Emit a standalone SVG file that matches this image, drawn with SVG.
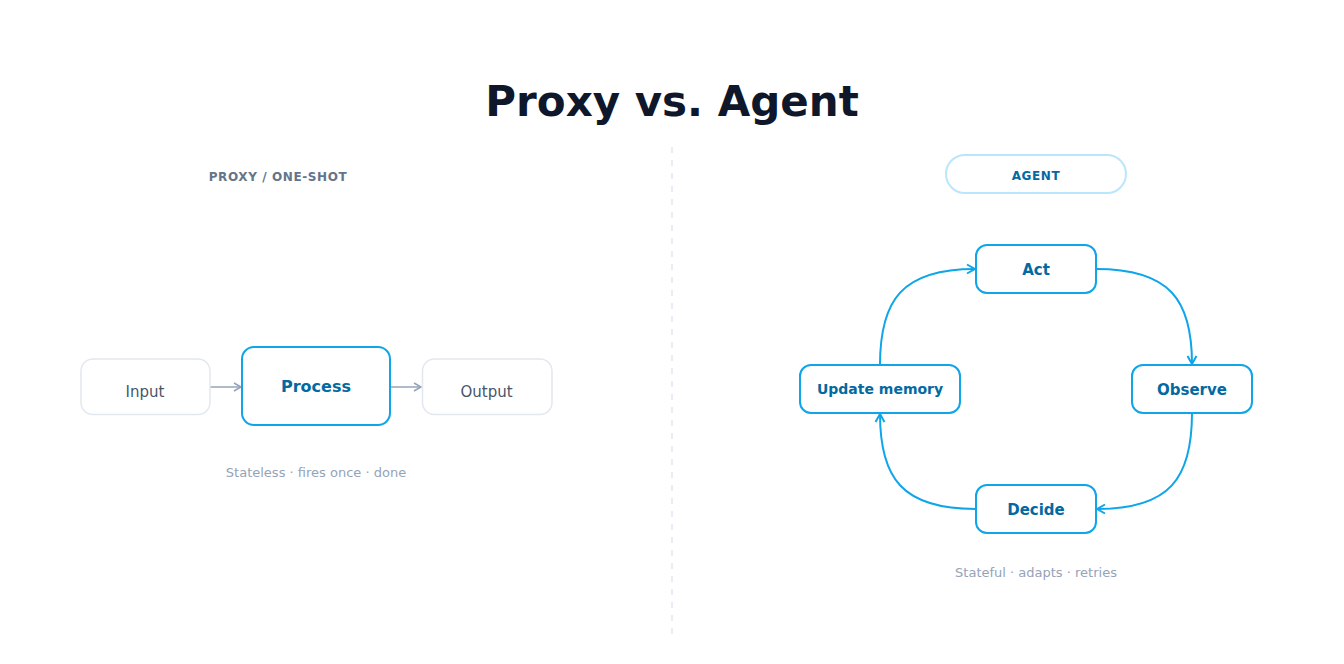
<svg xmlns="http://www.w3.org/2000/svg" width="1344" height="664" viewBox="0 0 1344 664">
<style>
.title{font-family:"DejaVu Sans",sans-serif;font-weight:bold;font-size:42px;fill:#0f172a}
.sec{font-family:"DejaVu Sans",sans-serif;font-weight:bold;font-size:12px;letter-spacing:0.6px}
.plain rect{fill:#fff;stroke:#e2e8f0;stroke-width:1.5}
.plain text{font-family:"DejaVu Sans",sans-serif;font-size:15px;fill:#475569}
.hot rect{fill:#fff;stroke:#0ea5e9;stroke-width:2}
.hot text{font-family:"DejaVu Sans",sans-serif;font-weight:bold;font-size:15px;fill:#0369a1}
.cap{font-family:"DejaVu Sans",sans-serif;font-size:13px;fill:#94a3b8}
.gray{fill:none;stroke:#94a3b8;stroke-width:1.5}
.blue{fill:none;stroke:#0ea5e9;stroke-width:2}
</style>
<defs>
<marker id="ag" markerUnits="userSpaceOnUse" markerWidth="12" markerHeight="12" viewBox="0 0 12 12" refX="10" refY="6" orient="auto">
<path d="M3,2 L10,6 L3,10" fill="none" stroke="#94a3b8" stroke-width="1.5"/>
</marker>
<marker id="ab" markerUnits="userSpaceOnUse" markerWidth="12" markerHeight="12" viewBox="0 0 12 12" refX="10" refY="6" orient="auto">
<path d="M2,1.5 L10,6 L2,10.5" fill="none" stroke="#0ea5e9" stroke-width="2"/>
</marker>
</defs>
<rect width="1344" height="664" fill="#fff"/>
<text class="title" x="672" y="116" text-anchor="middle">Proxy vs. Agent</text>
<line x1="672" y1="147" x2="672" y2="634" stroke="#e2e8f0" stroke-width="1.5" stroke-dasharray="6 7"/>
<text class="sec" x="278" y="180.5" text-anchor="middle" fill="#64748b">PROXY / ONE-SHOT</text>
<g id="agent-label">
<rect x="946" y="155" width="180" height="38" rx="19" fill="#fff" stroke="#bae6fd" stroke-width="2"/>
<text class="sec" x="1036" y="180" text-anchor="middle" fill="#0369a1">AGENT</text>
</g>
<g id="connectors">
<line class="gray" x1="210" y1="387" x2="241" y2="387" marker-end="url(#ag)"/>
<line class="gray" x1="390" y1="387" x2="421" y2="387" marker-end="url(#ag)"/>
<path class="blue" d="M1096,269 C1170,269 1192,300 1192,364" marker-end="url(#ab)"/>
<path class="blue" d="M1192,413 C1192,478 1170,509 1097,509" marker-end="url(#ab)"/>
<path class="blue" d="M976,509 C902,509 880,478 880,414" marker-end="url(#ab)"/>
<path class="blue" d="M880,365 C880,300 902,269 975,269" marker-end="url(#ab)"/>
</g>
<g id="input" class="plain">
<rect x="81" y="359" width="129" height="55.5" rx="12"/>
<text x="145" y="397" text-anchor="middle">Input</text>
</g>
<g id="process" class="hot">
<rect x="242" y="347" width="148" height="78" rx="12"/>
<text x="316" y="391.5" text-anchor="middle" style="font-size:16px">Process</text>
</g>
<g id="output" class="plain">
<rect x="422.5" y="359" width="129.5" height="55.5" rx="12"/>
<text x="486.5" y="397" text-anchor="middle">Output</text>
</g>
<text class="cap" x="316" y="477" text-anchor="middle">Stateless · fires once · done</text>
<g id="act" class="hot">
<rect x="976" y="245" width="120" height="48" rx="11"/>
<text x="1036" y="274.5" text-anchor="middle">Act</text>
</g>
<g id="observe" class="hot">
<rect x="1132" y="365" width="120" height="48" rx="11"/>
<text x="1192" y="394.5" text-anchor="middle">Observe</text>
</g>
<g id="decide" class="hot">
<rect x="976" y="485" width="120" height="48" rx="11"/>
<text x="1036" y="514.5" text-anchor="middle">Decide</text>
</g>
<g id="update-memory" class="hot">
<rect x="800" y="365" width="160" height="48" rx="11"/>
<text x="880" y="394" text-anchor="middle" style="font-size:14px">Update memory</text>
</g>
<text class="cap" x="1036" y="577" text-anchor="middle">Stateful · adapts · retries</text>
</svg>
